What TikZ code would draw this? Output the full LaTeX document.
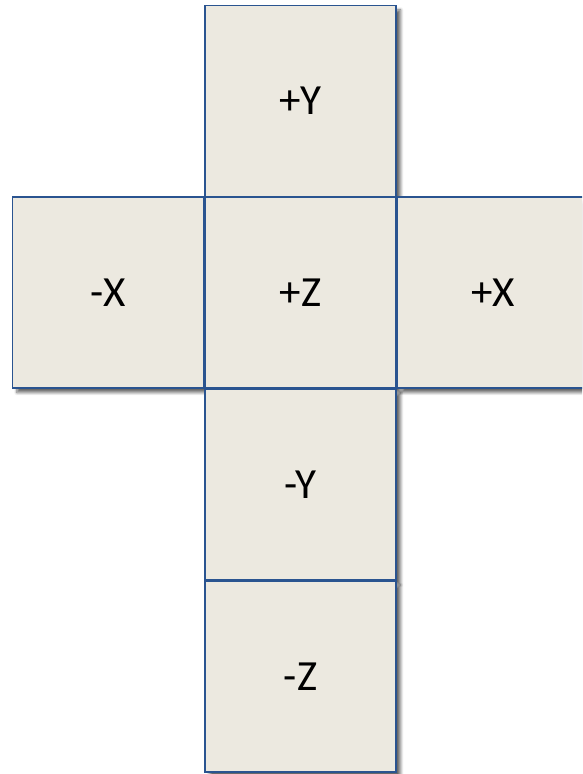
\documentclass[tikz,border=0pt]{standalone}
\usepackage{fontspec}
\setmainfont{Carlito}
\usepackage{tikz}
\usetikzlibrary{shadows.blur}

\definecolor{facebg}{HTML}{ECE9E0}
\definecolor{facebd}{HTML}{2A5490}

\begin{document}
\begin{tikzpicture}[
    x=1pt, y=1pt,
    face/.style={draw=facebd, fill=facebg, line width=1.9pt, minimum size=191pt,
                 inner sep=0pt, font=\fontsize{43}{50}\selectfont,
                 blur shadow={shadow xshift=4.5pt, shadow yshift=-4.5pt,
                              shadow blur radius=3pt, shadow blur steps=6,
                              shadow opacity=60}}
]
\useasboundingbox (0,0) rectangle (582,774);
\clip (0,0) rectangle (582,774);

\node[face] (py) at (300.5, 673)   {+Y};
\node[face] (mx) at (108,   481.5) {-X};
\node[face] (pz) at (300.5, 481.5) {+Z};
\node[face] (px) at (493,   481.5) {+X};
\node[face] (my) at (300.5, 289.5) {-Y};
\node[face] (mz) at (300.5, 97.5)  {-Z};
\end{tikzpicture}
\end{document}
